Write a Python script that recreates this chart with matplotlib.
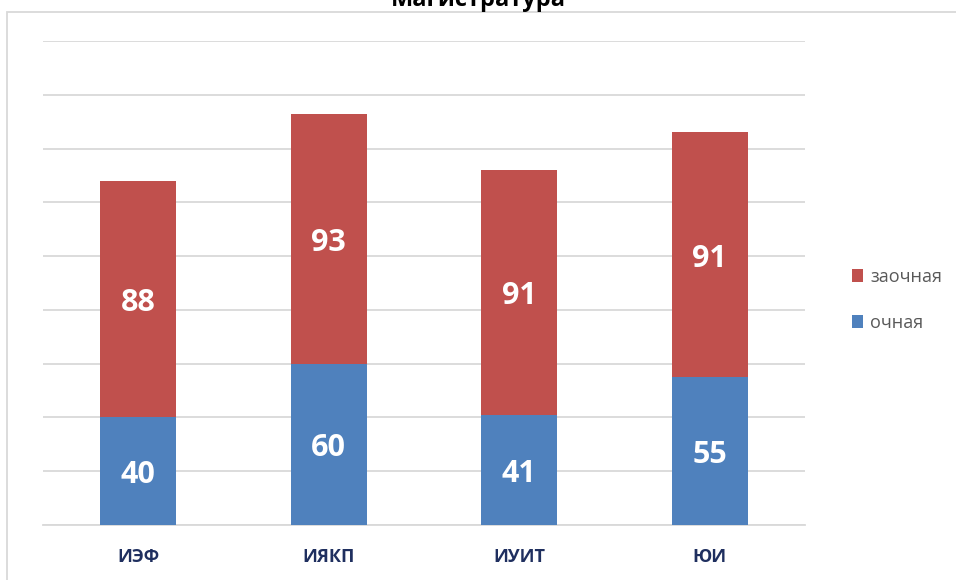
import matplotlib
matplotlib.use("Agg")
import matplotlib.pyplot as plt
from matplotlib.patches import Rectangle
import matplotlib.transforms as mtransforms

categories = ["ИЭФ", "ИЯКП", "ИУИТ", "ЮИ"]
ochnaya = [40, 60, 41, 55]
zaochnaya = [88, 93, 91, 91]
title = "Магистратура"

blue = "#4F81BD"
red = "#C0504D"

plt.rcParams['font.family'] = ['Open Sans', 'DejaVu Sans']

fig = plt.figure(figsize=(9.56, 5.8), dpi=100)
# chart border
fig.patches.append(Rectangle((7/956, -0.1), 1.0, 1 - 12/580 + 0.1,
                             transform=fig.transFigure, fill=False,
                             edgecolor="#D9D9D9", linewidth=1.3))
ax = fig.add_axes([43/956, 1 - 525/580, (805 - 43)/956, (525 - 41)/580])

x = list(range(len(categories)))
b1 = ax.bar(x, ochnaya, width=0.4, color=blue, label="очная", zorder=3)
b2 = ax.bar(x, zaochnaya, width=0.4, bottom=ochnaya, color=red, label="заочная", zorder=3)

off = mtransforms.offset_copy(ax.transData, fig=fig, x=0, y=-4, units="dots")
for i in x:
    ax.text(i, ochnaya[i] / 2, str(ochnaya[i]), ha="center", va="center",
            color="white", fontsize=22, fontweight="bold", zorder=4, transform=off)
    ax.text(i, ochnaya[i] + zaochnaya[i] / 2, str(zaochnaya[i]), ha="center", va="center",
            color="white", fontsize=22, fontweight="bold", zorder=4, transform=off)

ax.set_xlim(-0.5, 3.5)
ax.set_ylim(0, 180)
ax.set_yticks(range(0, 181, 20))
ax.yaxis.grid(True, color="#D9D9D9", linewidth=1.3, zorder=0)
ax.tick_params(axis="y", left=False, labelleft=False)
ax.tick_params(axis="x", bottom=False, pad=13)
ax.set_xticks(x)
ax.set_xticklabels(categories, fontsize=13, fontweight="bold", color="#1F2F5F")
for s in ["top", "right", "left"]:
    ax.spines[s].set_visible(False)
ax.spines["bottom"].set_color("#D9D9D9")
ax.spines["bottom"].set_linewidth(1.3)

handles = [b2, b1]
leg = fig.legend(handles, ["заочная", "очная"], loc="center left",
                 bbox_to_anchor=(836/956, 1 - 300/580), frameon=False,
                 fontsize=13, labelcolor="#595959", handlelength=0.6,
                 handleheight=0.75, handletextpad=0.4, labelspacing=1.55)

fig.text(478/956, 1 - 6/580, title, ha="center", va="baseline",
         fontsize=17, fontweight="bold", color="black")

fig.savefig("out.png", dpi=100)
